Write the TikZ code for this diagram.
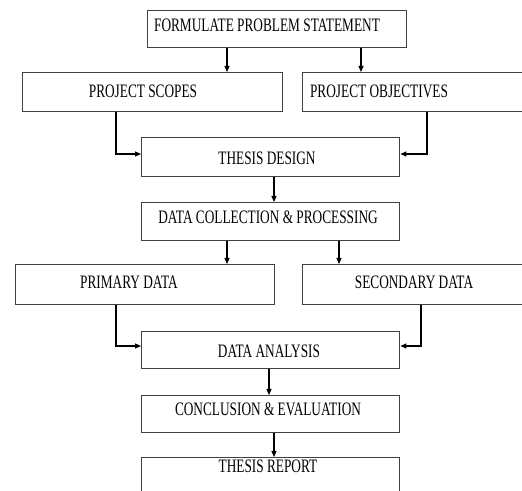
\documentclass[tikz,border=0pt]{standalone}
\usepackage{fontspec}
\setmainfont{Liberation Serif}
\usepackage{graphicx}
\usetikzlibrary{arrows.meta}
\newcommand\sqz[1]{\scalebox{0.70}[1]{#1}}
\begin{document}
\begin{tikzpicture}[x=1pt,y=1pt,
  box/.style={draw=black!75, line width=1.4pt, inner sep=0pt, anchor=north west},
  txt/.style={font=\fontsize{19}{19}\selectfont, inner sep=0pt, text=black},
  arr/.style={draw=black, line width=1.1pt, -{Triangle[length=6pt,width=5pt]}}]
\useasboundingbox (0,0) rectangle (522,490);
% boxes (pixel y -> 490 - y)
\node[box, minimum width=259pt, minimum height=37pt] (fps) at (147,480) {};
\node[box, minimum width=260pt, minimum height=39pt] (ps)  at (22,418) {};
\node[box, minimum width=230pt, minimum height=39pt] (po)  at (302,418) {};
\node[box, minimum width=258pt, minimum height=39pt] (td)  at (141,353) {};
\node[box, minimum width=258pt, minimum height=38pt] (dc)  at (141,288) {};
\node[box, minimum width=259pt, minimum height=40pt] (pd)  at (15,226) {};
\node[box, minimum width=230pt, minimum height=40pt] (sd)  at (302,226) {};
\node[box, minimum width=258pt, minimum height=37pt] (da)  at (141,159) {};
\node[box, minimum width=258pt, minimum height=37pt] (ce)  at (141,95) {};
\node[box, minimum width=258pt, minimum height=45pt] (tr)  at (141,33) {};
% texts
\node[txt] (tfps) at (267,464.5) {\sqz{FORMULATE PROBLEM STATEMENT}};
\node[txt] (tps)  at (143,398.5) {\sqz{PROJECT SCOPES}};
\node[txt] (tpo)  at (379,398.5) {\sqz{PROJECT OBJECTIVES}};
\node[txt] (ttd)  at (267,331.5) {\sqz{THESIS DESIGN}};
\node[txt] (tdc)  at (268,273) {\sqz{DATA COLLECTION \& PROCESSING}};
\node[txt] (tpd)  at (129,208) {\sqz{PRIMARY DATA}};
\node[txt] (tsd)  at (414,208) {\sqz{SECONDARY DATA}};
\node[txt] (tda)  at (269,138.5) {\sqz{DATA ANALYSIS}};
\node[txt] (tce)  at (268,80.5) {\sqz{CONCLUSION \& EVALUATION}};
\node[txt] (ttr)  at (268,23.5) {\sqz{THESIS REPORT}};
% helper coordinates for connector columns / rows
\coordinate (x227) at (227,0);
\coordinate (x361) at (361,0);
\coordinate (x116) at (116,0);
\coordinate (x427) at (427,0);
\coordinate (x274) at (274,0);
\coordinate (x339) at (339,0);
\coordinate (x421) at (421,0);
\coordinate (x269) at (269,0);
\coordinate (y154) at (0,336);
\coordinate (y346) at (0,144);
% connectors
\draw[arr] (fps.south -| x227) -- (ps.north -| x227);
\draw[arr] (fps.south -| x361) -- (po.north -| x361);
\draw[arr] (ps.south -| x116) |- (td.west |- y154);
\draw[arr] (po.south -| x427) |- (td.east |- y154);
\draw[arr] (td.south -| x274) -- (dc.north -| x274);
\draw[arr] (dc.south -| x227) -- (pd.north -| x227);
\draw[arr] (dc.south -| x339) -- (sd.north -| x339);
\draw[arr] (pd.south -| x116) |- (da.west |- y346);
\draw[arr] (sd.south -| x421) |- (da.east |- y346);
\draw[arr] (da.south -| x269) -- (ce.north -| x269);
\draw[arr] (ce.south -| x274) -- (tr.north -| x274);
\end{tikzpicture}
\end{document}
